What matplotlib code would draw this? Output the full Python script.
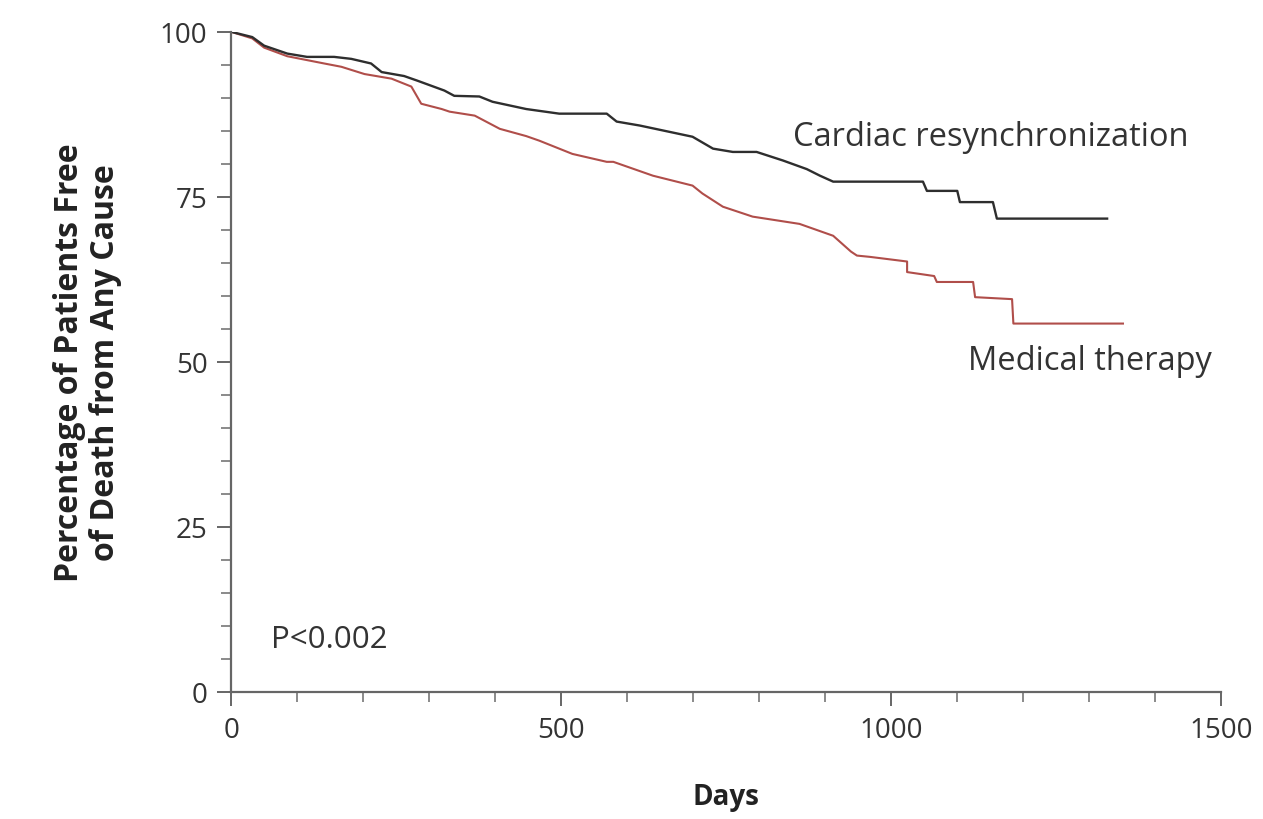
import matplotlib
matplotlib.use("Agg")
from matplotlib import pyplot as plt
from matplotlib.ticker import MultipleLocator

plt.rcParams['font.family'] = ['Open Sans', 'DejaVu Sans']

# Kaplan-Meier curves (days, % alive)
crt_days = [0, 32, 50, 85, 115, 156, 182, 212, 228, 262, 282, 323, 338, 376, 396, 447, 497,
            569, 584, 619, 699, 730, 760, 796, 836, 872, 892, 912, 1048, 1054, 1100, 1104,
            1154, 1160, 1327]
crt_pct = [100, 99.2, 97.9, 96.7, 96.2, 96.2, 95.9, 95.2, 93.9, 93.3, 92.6, 91.1, 90.3, 90.2,
           89.4, 88.3, 87.6, 87.6, 86.4, 85.8, 84.1, 82.3, 81.8, 81.8, 80.5, 79.2, 78.2, 77.3,
           77.3, 75.9, 75.9, 74.2, 74.2, 71.7, 71.7]

med_days = [0, 32, 50, 85, 141, 167, 202, 243, 273, 288, 319, 331, 369, 407, 447, 467, 517,
            569, 579, 639, 699, 714, 745, 790, 861, 912, 939, 948, 968, 1024, 1024, 1065, 1069,
            1124, 1127, 1183, 1185, 1351]
med_pct = [100, 99.0, 97.6, 96.3, 95.2, 94.7, 93.6, 92.9, 91.7, 89.1, 88.3, 87.9, 87.3, 85.3,
           84.2, 83.5, 81.5, 80.3, 80.3, 78.2, 76.7, 75.5, 73.5, 72.0, 70.9, 69.1, 66.7, 66.1,
           65.9, 65.2, 63.6, 63.0, 62.1, 62.1, 59.8, 59.5, 55.8, 55.8]

x_ticks = [0, 500, 1000, 1500]
y_ticks = [0, 25, 50, 75, 100]

fig = plt.figure(figsize=(12.63, 8.2), dpi=100)
ax = fig.add_axes([0.183, 0.155, 0.784, 0.805])

ax.plot(med_days, med_pct, color='#b04e4a', linewidth=1.5)
ax.plot(crt_days, crt_pct, color='#2e2e2e', linewidth=1.7)

ax.set_xlim(0, 1500)
ax.set_ylim(0, 100)
ax.set_xticks(x_ticks)
ax.set_yticks(y_ticks)
ax.xaxis.set_minor_locator(MultipleLocator(100))
ax.yaxis.set_minor_locator(MultipleLocator(5))

for s in ['top', 'right']:
    ax.spines[s].set_visible(False)
for s in ['left', 'bottom']:
    ax.spines[s].set_color('#666666')
    ax.spines[s].set_linewidth(1.6)

ax.tick_params(which='major', length=10, width=1.4, color='#666666', labelsize=20,
               labelcolor='#333333', pad=7)
ax.tick_params(which='minor', length=7, width=1.2, color='#777777')
ax.tick_params(axis='both', which='both', direction='out')

ax.set_xlabel('Days', fontsize=20, fontweight='bold', color='#222222', labelpad=28)
ax.set_ylabel('Percentage of Patients Free\nof Death from Any Cause', fontsize=23,
              fontweight='bold', color='#222222', labelpad=27, linespacing=1.15)

ax.text(851, 84.1, 'Cardiac resynchronization', fontsize=23.5, color='#333333',
        ha='left', va='center')
ax.text(1116, 50.2, 'Medical therapy', fontsize=23.5, color='#333333', ha='left', va='center')
ax.text(61, 8.0, 'P<0.002', fontsize=22.5, color='#333333', ha='left', va='center')

fig.savefig('out.png', dpi=100)
